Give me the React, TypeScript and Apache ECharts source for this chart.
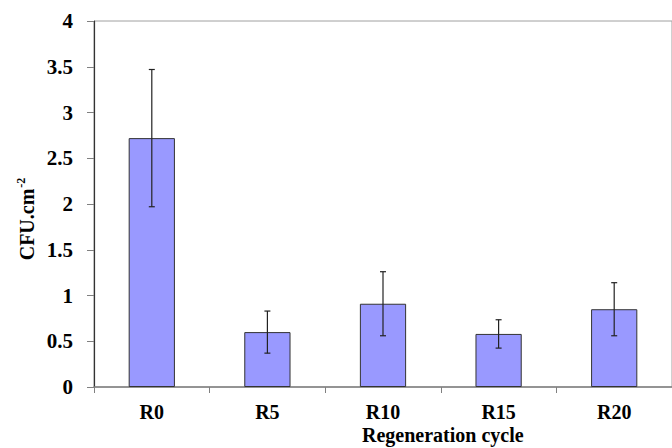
import React, { useEffect, useRef } from "react";
import * as echarts from "echarts";

const categories = ["R0", "R5", "R10", "R15", "R20"];
const meanValues = [2.72, 0.6, 0.91, 0.58, 0.85];
const errorValues = [0.75, 0.23, 0.35, 0.155, 0.29];
const yMin = 0;
const yMax = 4;
const yInterval = 0.5;

const FONT = "'Liberation Serif', 'Times New Roman', serif";

export default function App() {
  const ref = useRef<HTMLDivElement>(null);
  useEffect(() => {
    if (!ref.current) return;
    const chart = echarts.init(ref.current, undefined, { renderer: "svg" });
    const errData = categories.map((_, i) => [i, meanValues[i] - errorValues[i], meanValues[i] + errorValues[i]]);
    chart.setOption({
      animation: false,
      backgroundColor: "#ffffff",
      grid: {
        left: 94,
        top: 21,
        height: 366,
        width: 590,
        show: true,
        borderColor: "#a0a0a0",
        borderWidth: 1,
        backgroundColor: "transparent",
      },
      xAxis: {
        type: "category",
        data: categories,
        boundaryGap: true,
        axisLine: { show: true, lineStyle: { color: "#808080", width: 1.5 } },
        axisTick: { show: true, length: 6, alignWithLabel: false, lineStyle: { color: "#808080" } },
        axisLabel: {
          fontFamily: FONT,
          fontWeight: "bold",
          fontSize: 20,
          lineHeight: 20,
          color: "#000",
          margin: 15,
        },
        splitLine: { show: false },
      },
      yAxis: {
        type: "value",
        min: yMin,
        max: yMax,
        interval: yInterval,
        axisLine: { show: true, lineStyle: { color: "#333", width: 1.2 } },
        axisTick: { show: true, length: 7, lineStyle: { color: "#808080" } },
        axisLabel: {
          fontFamily: FONT,
          fontWeight: "bold",
          fontSize: 21,
          color: "#000",
          margin: 21,
        },
        splitLine: { show: false },
      },
      graphic: [
        {
          type: "text",
          left: 362,
          top: 425,
          style: {
            text: "Regeneration cycle",
            fontFamily: FONT,
            fontWeight: "bold",
            fontSize: 20,
            fill: "#000",
            textAlign: "center",
          },
        },
        {
          type: "text",
          x: 27,
          y: 219,
          rotation: Math.PI / 2,
          style: {
            text: "{a|CFU.cm}{b|-2}",
            textAlign: "center",
            textVerticalAlign: "middle",
            rich: {
              a: { fontFamily: FONT, fontWeight: "bold", fontSize: 20, fill: "#000", color: "#000" },
              b: { fontFamily: FONT, fontWeight: "bold", fontSize: 12, fill: "#000", color: "#000", verticalAlign: "top", padding: [0, 0, 12, 1] },
            },
          },
        },
      ],
      series: [
        {
          type: "bar",
          data: meanValues,
          barWidth: "40%",
          itemStyle: { color: "#9999ff", borderColor: "#333", borderWidth: 1 },
          z: 2,
        },
        {
          type: "custom",
          data: errData,
          encode: { x: 0, y: [1, 2] },
          z: 3,
          renderItem: (params: any, api: any) => {
            const x = api.value(0);
            const lo = api.coord([x, api.value(1)]);
            const hi = api.coord([x, api.value(2)]);
            const cap = 3;
            const style = { stroke: "#222", lineWidth: 1.2 };
            return {
              type: "group",
              children: [
                { type: "line", shape: { x1: hi[0], y1: hi[1], x2: lo[0], y2: lo[1] }, style },
                { type: "line", shape: { x1: hi[0] - cap, y1: hi[1], x2: hi[0] + cap, y2: hi[1] }, style },
                { type: "line", shape: { x1: lo[0] - cap, y1: lo[1], x2: lo[0] + cap, y2: lo[1] }, style },
              ],
            };
          },
        },
      ],
    });
    return () => chart.dispose();
  }, []);
  return (
    <div
      ref={ref}
      style={{ position: "fixed", left: 0, top: 0, width: 672, height: 448, background: "#fff" }}
    />
  );
}
